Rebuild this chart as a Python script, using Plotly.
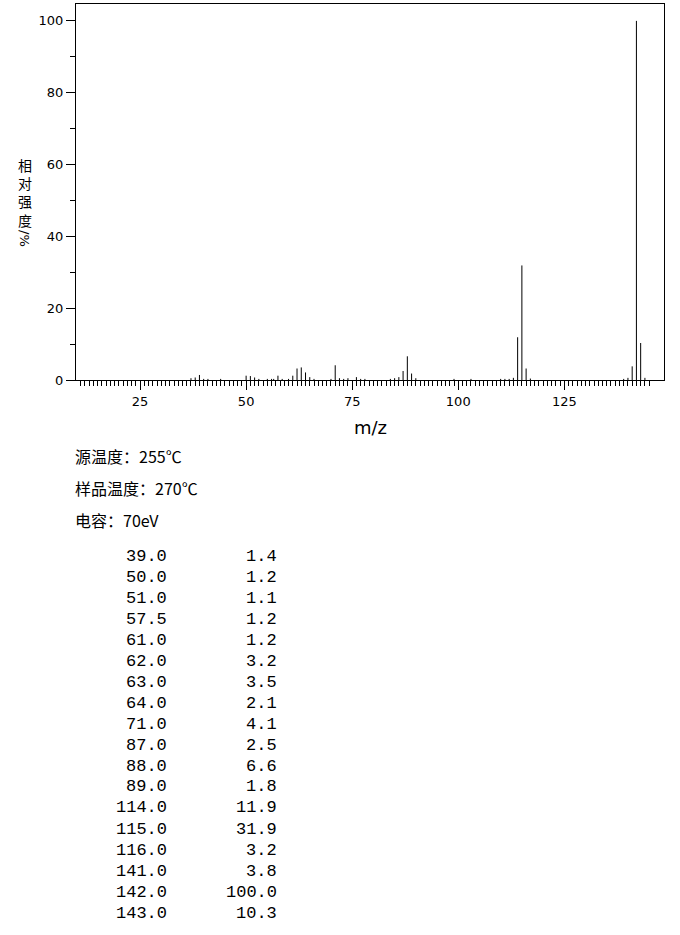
import plotly.graph_objects as go

# peaks (m/z, relative intensity %)
peak_mz = [37, 38, 39, 40, 41, 44, 50, 51, 52, 53, 55, 56, 56.5, 57.5, 58.5, 60,
           61, 62, 63, 64, 65, 66, 70, 71, 72, 73, 74, 76, 77, 78, 84, 85, 86,
           87, 88, 89, 90, 99, 103, 110, 111, 112, 113, 114, 115, 116, 117,
           139, 140, 141, 142, 143, 144]
peak_int = [0.5, 0.7, 1.4, 0.3, 0.3, 0.3, 1.2, 1.1, 0.7, 0.3, 0.3, 0.3, 0.3, 1.2, 0.3, 0.3,
            1.2, 3.2, 3.5, 2.1, 0.8, 0.3, 0.3, 4.1, 0.5, 0.3, 0.5, 0.8, 0.3, 0.3, 0.3, 0.5, 0.8,
            2.5, 6.6, 1.8, 0.5, 0.3, 0.3, 0.3, 0.3, 0.3, 0.6, 11.9, 31.9, 3.2, 0.4,
            0.3, 0.6, 3.8, 100.0, 10.3, 0.6]

# listed peaks
table_mz = [39.0, 50.0, 51.0, 57.5, 61.0, 62.0, 63.0, 64.0, 71.0, 87.0, 88.0,
            89.0, 114.0, 115.0, 116.0, 141.0, 142.0, 143.0]
table_int = [1.4, 1.2, 1.1, 1.2, 1.2, 3.2, 3.5, 2.1, 4.1, 2.5, 6.6,
             1.8, 11.9, 31.9, 3.2, 3.8, 100.0, 10.3]

info_lines = ["源温度：255℃", "样品温度：270℃", "电容：70eV"]
y_title_chars = "相对强度"

W, H = 680, 935
L, R, T, B = 76, 664, 4, 380


def px(x):
    return (x - L) / (R - L)


def py(y):
    return (B - y) / (B - T)


xs, ys = [], []
for m, v in zip(peak_mz, peak_int):
    xs += [m, m, None]
    ys += [0, v, None]

fig = go.Figure(go.Scatter(x=xs, y=ys, mode="lines",
                           line=dict(color="black", width=1),
                           hoverinfo="skip", showlegend=False))

axis_font = dict(family="DejaVu Sans", size=13, color="black")
fig.update_xaxes(range=[9.9, 148.5], showline=True, linecolor="black", linewidth=1,
                 mirror=True, showgrid=False, zeroline=False,
                 tickmode="linear", tick0=0, dtick=25, ticks="outside",
                 ticklen=9, tickcolor="black", tickfont=axis_font,
                 minor=dict(tickmode="array", tickvals=list(range(11, 146)),
                            ticks="outside", ticklen=5, tickcolor="black"))
fig.update_yaxes(range=[0, 104.7], showline=True, linecolor="black", linewidth=1,
                 mirror=True, showgrid=False, zeroline=False,
                 tickmode="linear", tick0=0, dtick=20, ticks="outside",
                 ticklen=9, tickcolor="black", tickfont=axis_font,
                 minor=dict(dtick=10, ticks="outside", ticklen=5, tickcolor="black"))

ann = []
# y title: upright stacked characters, then a rotated "/%"
ann.append(dict(x=px(25), y=py(192), text="<br>".join(y_title_chars), showarrow=False,
                xref="paper", yref="paper", xanchor="center", yanchor="middle",
                font=dict(family="Noto Sans CJK SC", size=14, color="black")))
ann.append(dict(x=px(25), y=py(238), text="/%", textangle=90, showarrow=False,
                xref="paper", yref="paper", xanchor="center", yanchor="middle",
                font=dict(family="DejaVu Sans", size=13, color="black")))
# x title
ann.append(dict(x=px(370), y=py(427), text="m/z", showarrow=False,
                xref="paper", yref="paper", xanchor="center", yanchor="middle",
                font=dict(family="DejaVu Sans", size=18, color="black")))
# conditions
for i, t in enumerate(info_lines):
    ann.append(dict(x=px(73), y=py(456 + i * 32), text=t, showarrow=False,
                    xref="paper", yref="paper", xanchor="left", yanchor="middle",
                    font=dict(family="Noto Sans CJK SC", size=16, color="black")))
# peak table
mono = dict(family="Liberation Mono", size=17, color="black")
for i, (m, v) in enumerate(zip(table_mz, table_int)):
    yy = py(556 + i * 21)
    ann.append(dict(x=px(169), y=yy, text=f"{m:.1f}", showarrow=False,
                    xref="paper", yref="paper", xanchor="right", yanchor="middle", font=mono))
    ann.append(dict(x=px(279), y=yy, text=f"{v:.1f}", showarrow=False,
                    xref="paper", yref="paper", xanchor="right", yanchor="middle", font=mono))

fig.update_layout(width=W, height=H, margin=dict(l=L, r=W - R, t=T, b=H - B),
                  paper_bgcolor="white", plot_bgcolor="white",
                  annotations=ann, showlegend=False)

fig.write_html("out.html", config={"displayModeBar": False},
               post_script="document.body.style.margin='0';")
